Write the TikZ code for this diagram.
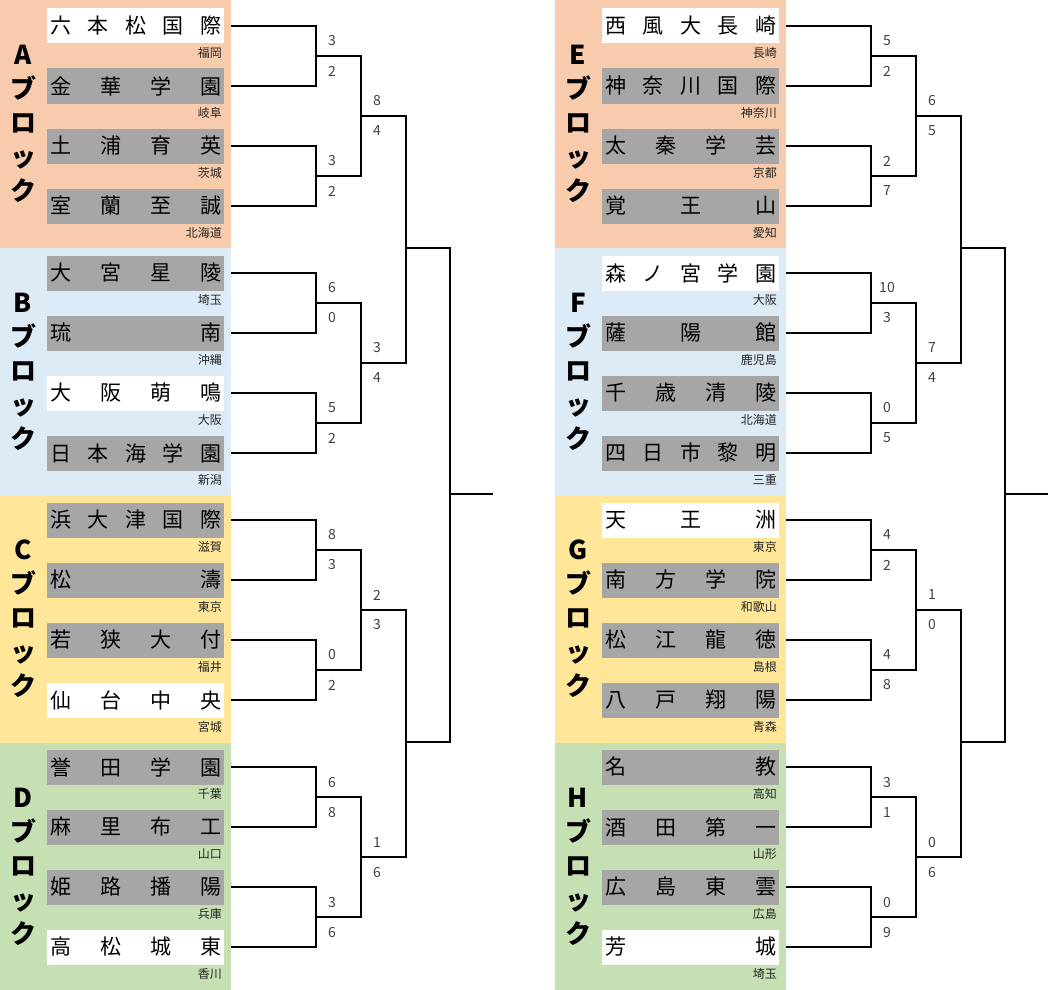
\documentclass[tikz,border=0pt]{standalone}
\usepackage{fontspec}
\setmainfont{Noto Sans CJK JP}
\usetikzlibrary{calc}
\definecolor{blkA}{HTML}{F8CBAD}
\definecolor{blkB}{HTML}{DDEBF7}
\definecolor{blkC}{HTML}{FFE699}
\definecolor{blkD}{HTML}{C6E0B4}
\definecolor{tmgrey}{HTML}{A6A6A6}
\definecolor{scgrey}{HTML}{404040}
\tikzset{
  team/.style={anchor=west,minimum width=177pt,minimum height=35pt,
               inner xsep=3pt,inner ysep=0pt,text width=171pt,align=left,
               font=\fontsize{21}{21}\selectfont},
  pref/.style={anchor=east,inner sep=0pt,text=black!85,
               font=\fontsize{12}{12}\selectfont},
  blocklbl/.style={align=center,inner sep=0pt,
                   font=\bfseries\fontsize{26}{34}\selectfont},
  bracket/.style={draw=black,line width=2pt},
  score/.style={inner sep=0pt,text=scgrey,font=\fontsize{14}{14}\selectfont},
}

\begin{document}
\begin{tikzpicture}[x=1pt,y=-1pt]
  \useasboundingbox (0,0) rectangle (1049,990);

  % ---- block backgrounds and block labels ----
  \foreach \dx/\bi/\lt/\bc in {0/0/A/blkA,0/1/B/blkB,0/2/C/blkC,0/3/D/blkD,
                               555/0/E/blkA,555/1/F/blkB,555/2/G/blkC,555/3/H/blkD}{
    \pgfmathsetmacro{\btop}{247.5*\bi}
    \fill[\bc] (\dx,\btop) rectangle ({\dx+231},{\btop+247.5});
    \node[blocklbl] (blk\lt) at ({\dx+23},{\btop+124}) {\lt\\ブ\\ロ\\ッ\\ク};
  }

  % ---- teams (name box + prefecture) ----
  \foreach \dx/\bi/\tj/\nm/\tn/\tp/\tf in {
      0/0/0/a1/六\hfill 本\hfill 松\hfill 国\hfill 際/福岡/white,
      0/0/1/a2/金\hfill 華\hfill 学\hfill 園/岐阜/tmgrey,
      0/0/2/a3/土\hfill 浦\hfill 育\hfill 英/茨城/tmgrey,
      0/0/3/a4/室\hfill 蘭\hfill 至\hfill 誠/北海道/tmgrey,
      0/1/0/b1/大\hfill 宮\hfill 星\hfill 陵/埼玉/tmgrey,
      0/1/1/b2/琉\hfill 南/沖縄/tmgrey,
      0/1/2/b3/大\hfill 阪\hfill 萌\hfill 鳴/大阪/white,
      0/1/3/b4/日\hfill 本\hfill 海\hfill 学\hfill 園/新潟/tmgrey,
      0/2/0/c1/浜\hfill 大\hfill 津\hfill 国\hfill 際/滋賀/tmgrey,
      0/2/1/c2/松\hfill 濤/東京/tmgrey,
      0/2/2/c3/若\hfill 狭\hfill 大\hfill 付/福井/tmgrey,
      0/2/3/c4/仙\hfill 台\hfill 中\hfill 央/宮城/white,
      0/3/0/d1/誉\hfill 田\hfill 学\hfill 園/千葉/tmgrey,
      0/3/1/d2/麻\hfill 里\hfill 布\hfill 工/山口/tmgrey,
      0/3/2/d3/姫\hfill 路\hfill 播\hfill 陽/兵庫/tmgrey,
      0/3/3/d4/高\hfill 松\hfill 城\hfill 東/香川/white,
      555/0/0/e1/西\hfill 風\hfill 大\hfill 長\hfill 崎/長崎/white,
      555/0/1/e2/神\hfill 奈\hfill 川\hfill 国\hfill 際/神奈川/tmgrey,
      555/0/2/e3/太\hfill 秦\hfill 学\hfill 芸/京都/tmgrey,
      555/0/3/e4/覚\hfill 王\hfill 山/愛知/tmgrey,
      555/1/0/f1/森\hfill ノ\hfill 宮\hfill 学\hfill 園/大阪/white,
      555/1/1/f2/薩\hfill 陽\hfill 館/鹿児島/tmgrey,
      555/1/2/f3/千\hfill 歳\hfill 清\hfill 陵/北海道/tmgrey,
      555/1/3/f4/四\hfill 日\hfill 市\hfill 黎\hfill 明/三重/tmgrey,
      555/2/0/g1/天\hfill 王\hfill 洲/東京/white,
      555/2/1/g2/南\hfill 方\hfill 学\hfill 院/和歌山/tmgrey,
      555/2/2/g3/松\hfill 江\hfill 龍\hfill 徳/島根/tmgrey,
      555/2/3/g4/八\hfill 戸\hfill 翔\hfill 陽/青森/tmgrey,
      555/3/0/h1/名\hfill 教/高知/tmgrey,
      555/3/1/h2/酒\hfill 田\hfill 第\hfill 一/山形/tmgrey,
      555/3/2/h3/広\hfill 島\hfill 東\hfill 雲/広島/tmgrey,
      555/3/3/h4/芳\hfill 城/埼玉/white}{
    \pgfmathsetmacro{\ty}{26+247*\bi+60*\tj}
    \node[team,fill=\tf] (\nm) at ({\dx+47},\ty) {\tn};
    \node[pref] (\nm-p) at ({\dx+222},{\ty+27}) {\tp};
  }

  % ---- first two rounds, per block ----
  \foreach \dx/\bi/\bk in {0/0/a,0/1/b,0/2/c,0/3/d,555/0/e,555/1/f,555/2/g,555/3/h}{
    \pgfmathsetmacro{\ty}{26+247*\bi}
    \foreach \tj in {1,...,4}
      \coordinate (\bk\tj s) at ({\dx+231},{\ty+60*(\tj-1)});
    \coordinate (\bk p1) at ({\dx+316},{\ty+30});
    \coordinate (\bk p2) at ({\dx+316},{\ty+150});
    \coordinate (\bk q) at ({\dx+361},{\ty+90});
    \draw[bracket] (\bk1s) -| (\bk p1) |- (\bk2s);
    \draw[bracket] (\bk3s) -| (\bk p2) |- (\bk4s);
    \draw[bracket] (\bk p1) -| (\bk q) |- (\bk p2);
  }

  % ---- semi-final and final lines, per half ----
  \foreach \dx/\pa/\pb/\pc/\pd/\hf in {0/a/b/c/d/l,555/e/f/g/h/r}{
    \coordinate (\hf r1) at ({\dx+406},248);
    \coordinate (\hf r2) at ({\dx+406},742);
    \coordinate (\hf fin) at ({\dx+450},494);
    \coordinate (\hf out) at ({\dx+493},494);
    \draw[bracket] (\pa q) -| (\hf r1) |- (\pb q);
    \draw[bracket] (\pc q) -| (\hf r2) |- (\pd q);
    \draw[bracket] (\hf r1) -| (\hf fin) |- (\hf r2);
    \draw[bracket] (\hf fin) -- (\hf out);
  }

  % ---- scores (above / below each junction) ----
  \foreach \bk/\sA/\sB/\sC/\sD/\sE/\sF in {a/3/2/3/2/8/4,b/6/0/5/2/3/4,
      c/8/3/0/2/2/3,d/6/8/3/6/1/6,e/5/2/2/7/6/5,f/10/3/0/5/7/4,
      g/4/2/4/8/1/0,h/3/1/0/9/0/6}{
    \node[score] (\bk n1) at ($(\bk p1)+(16,-15)$) {\sA};
    \node[score] (\bk n2) at ($(\bk p1)+(16,15)$)  {\sB};
    \node[score] (\bk n3) at ($(\bk p2)+(16,-15)$) {\sC};
    \node[score] (\bk n4) at ($(\bk p2)+(16,15)$)  {\sD};
    \node[score] (\bk n5) at ($(\bk q)+(16,-15)$)  {\sE};
    \node[score] (\bk n6) at ($(\bk q)+(16,15)$)   {\sF};
  }
\end{tikzpicture}
\end{document}
